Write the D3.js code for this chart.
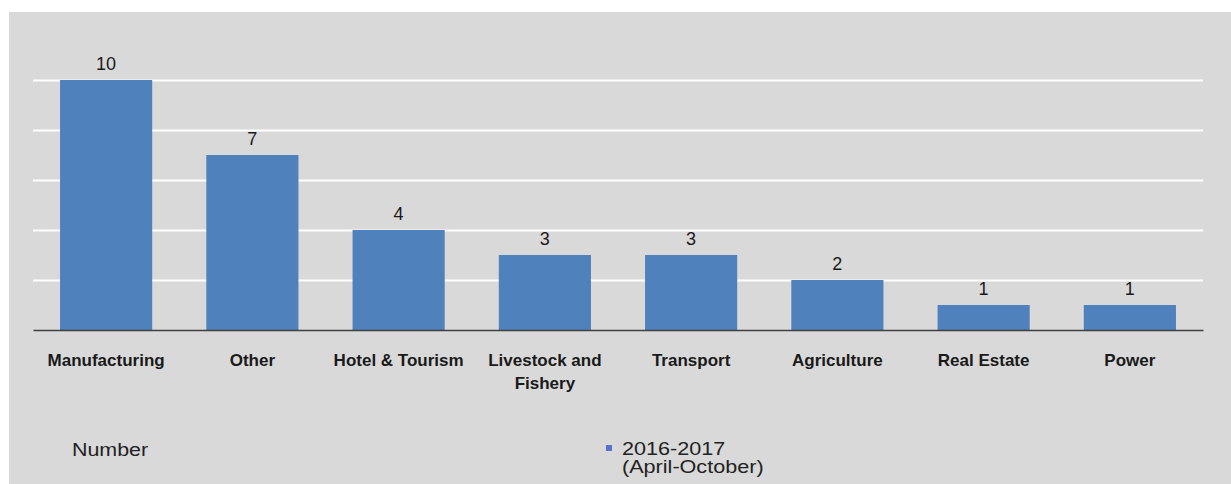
<!DOCTYPE html>
<html>
<head>
<meta charset="utf-8">
<script src="https://cdn.jsdelivr.net/npm/d3@7"></script>
<style>
  html, body { margin: 0; padding: 0; background: #ffffff; }
  svg { display: block; }
  text { font-family: "Liberation Sans", Arial, sans-serif; }
</style>
</head>
<body>
<div class="bar-chart-container"></div>
<script>
// data
const sectors = ['Manufacturing', 'Other', 'Hotel & Tourism', 'Livestock and\nFishery',
    'Transport', 'Agriculture', 'Real Estate', 'Power'];
const projects = [10, 7, 4, 3, 3, 2, 1, 1];
const gridTicks = [2, 4, 6, 8, 10];
const seriesName = ['2016-2017', '(April-October)'];
const axisTitle = 'Number';

const svg_width = 1231;
const svg_height = 484;
const chart_margin = { top: 80, right: 28, bottom: 154, left: 33 };
const bar_color = '#4f81bd';

const barChartData = sectors.map((s, i) => ({ sector: s, value: projects[i] }));

const svg = d3.select('.bar-chart-container')
    .append('svg')
    .attr('width', svg_width)
    .attr('height', svg_height);

// grey panel
svg.append('rect')
    .attr('x', 9)
    .attr('y', 12)
    .attr('width', svg_width - 9)
    .attr('height', svg_height - 12)
    .style('fill', '#d9d9d9');

const xScale = d3.scaleBand()
    .domain(sectors)
    .range([chart_margin.left, svg_width - chart_margin.right])
    .paddingInner(0.37)
    .paddingOuter(0.185);
const yScale = d3.scaleLinear([0, 10], [svg_height - chart_margin.bottom, chart_margin.top]);

// gridlines
const grid = d3.axisLeft(yScale)
    .tickValues(gridTicks)
    .tickSize(-(svg_width - chart_margin.left - chart_margin.right))
    .tickFormat('');
const gridDraw = svg.append('g')
    .attr('class', 'grid')
    .attr('transform', `translate(${chart_margin.left},0)`)
    .call(grid);
gridDraw.select('.domain').remove();
gridDraw.selectAll('line')
    .style('stroke', '#ffffff')
    .style('stroke-width', 2);

// bars
svg.selectAll('.bar')
    .data(barChartData)
    .enter()
    .append('rect')
    .attr('class', 'bar')
    .attr('x', d => xScale(d.sector))
    .attr('y', d => yScale(d.value))
    .attr('width', xScale.bandwidth())
    .attr('height', d => yScale(0) - yScale(d.value))
    .style('fill', bar_color);

// value labels
svg.selectAll('.value')
    .data(barChartData)
    .enter()
    .append('text')
    .attr('class', 'value')
    .attr('x', d => xScale(d.sector) + xScale.bandwidth() / 2)
    .attr('y', d => yScale(d.value) - 10)
    .attr('text-anchor', 'middle')
    .style('font-size', '18px')
    .style('fill', '#1a1a1a')
    .text(d => d.value);

// x axis
const xAxis = d3.axisBottom(xScale)
    .tickSize(0)
    .tickSizeOuter(0)
    .tickFormat('');
const xAxisDraw = svg.append('g')
    .attr('class', 'x axis')
    .attr('transform', `translate(0,${yScale(0)})`)
    .call(xAxis);
xAxisDraw.select('.domain')
    .style('stroke', '#404040')
    .style('stroke-width', 1.5);

const labels = xAxisDraw.selectAll('.tick')
    .append('text')
    .attr('text-anchor', 'middle')
    .style('font-size', '17px')
    .style('font-weight', 'bold')
    .style('fill', '#1a1a1a');
labels.each(function (d) {
    const lines = d.split('\n');
    d3.select(this).selectAll('tspan')
        .data(lines)
        .enter()
        .append('tspan')
        .attr('x', 0)
        .attr('y', (l, i) => 36 + i * 23)
        .text(l => l);
});

// bottom legend row
svg.append('text')
    .attr('transform', 'translate(72,456) scale(1.19,1)')
    .style('font-size', '18px')
    .style('fill', '#222')
    .text(axisTitle);

const legend = svg.append('g')
    .attr('transform', 'translate(606,445)');
legend.append('rect')
    .attr('width', 6)
    .attr('height', 6)
    .style('fill', '#5a72c8');
const legendText = legend.append('text')
    .attr('transform', 'translate(16,10) scale(1.2,1)')
    .style('font-size', '18px')
    .style('fill', '#222');
legendText.selectAll('tspan')
    .data(seriesName)
    .enter()
    .append('tspan')
    .attr('x', 0)
    .attr('y', (d, i) => i * 18)
    .text(d => d);
</script>
</body>
</html>
